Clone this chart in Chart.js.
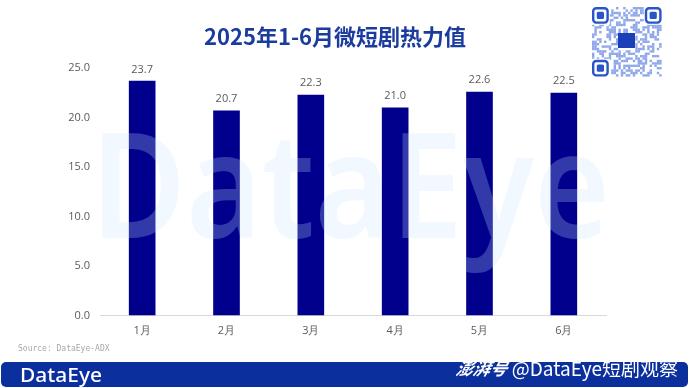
<!DOCTYPE html>
<html>
<head>
<meta charset="utf-8">
<script src="https://cdn.jsdelivr.net/npm/chart.js@4.4.1/dist/chart.umd.min.js"></script>
<style>
  html, body { margin: 0; padding: 0; background: #ffffff; }
  #grafico { display: block; }
</style>
</head>
<body>
<canvas id="grafico" width="690" height="388"></canvas>
<script>
// Datos del grafico
const meses = ["1月", "2月", "3月", "4月", "5月", "6月"];
const valores = [23.7, 20.7, 22.3, 21.0, 22.6, 22.5];
const ticksY = [0, 5, 10, 15, 20, 25];

const titulo = "2025年1-6月微短剧热力值";
const fuente = "Source: DataEye-ADX";
const marca = "DataEye";
const firma = "@DataEye短剧观察";

const azulBarra = "#00008c";
const grisTexto = "#5a5a5a";

// Dibuja un texto ajustado a una caja (ancho y alto de mayusculas)
function textoAjustado(ctx, texto, x, yBase, ancho, alto) {
  const m = ctx.measureText(texto);
  const sx = ancho / m.width;
  const sy = alto / m.actualBoundingBoxAscent;
  ctx.save();
  ctx.translate(x, yBase);
  ctx.scale(sx, sy);
  ctx.fillText(texto, 0, 0);
  ctx.restore();
}

// Marca de agua, etiquetas y decoraciones
const decoracion = {
  id: "decoracion",
  afterDatasetsDraw(chart) {
    const ctx = chart.ctx;

    // marca de agua grande sobre las barras
    ctx.save();
    ctx.globalAlpha = 0.25;
    ctx.fillStyle = "rgb(200,226,255)";
    ctx.font = "600 150px 'Noto Sans'";
    ctx.textAlign = "left";
    ctx.textBaseline = "alphabetic";
    textoAjustado(ctx, marca, 91, 238, 519, 105);
    ctx.restore();

    // valores encima de cada barra
    const meta = chart.getDatasetMeta(0);
    ctx.save();
    ctx.fillStyle = grisTexto;
    ctx.font = "11px 'Open Sans'";
    ctx.textAlign = "center";
    ctx.textBaseline = "bottom";
    meta.data.forEach((barra, i) => {
      ctx.fillText(valores[i].toFixed(1), barra.x, barra.y - 6);
    });
    ctx.restore();
  },
  afterDraw(chart) {
    const ctx = chart.ctx;

    // titulo
    ctx.save();
    ctx.fillStyle = "#1b3c9c";
    ctx.font = "bold 22px 'Noto Sans CJK SC'";
    ctx.textAlign = "center";
    ctx.textBaseline = "middle";
    ctx.fillText(titulo, 335, 37);
    ctx.restore();

    // fuente
    ctx.save();
    ctx.fillStyle = "#a8a8a8";
    ctx.font = "8px 'DejaVu Sans Mono'";
    ctx.textBaseline = "middle";
    ctx.fillText(fuente, 18, 349);
    ctx.restore();

    // franja inferior
    ctx.save();
    ctx.fillStyle = "#0c2f9e";
    ctx.beginPath();
    ctx.roundRect(1, 362, 687, 25, 5);
    ctx.fill();
    ctx.fillStyle = "#ffffff";
    ctx.font = "500 22px 'Noto Sans'";
    ctx.textBaseline = "alphabetic";
    textoAjustado(ctx, marca, 20, 382, 82, 15);
    ctx.font = "19px 'Noto Sans CJK SC'";
    ctx.textAlign = "right";
    ctx.textBaseline = "middle";
    ctx.fillText(firma, 678, 369);
    ctx.font = "italic bold 17px 'Noto Sans CJK SC'";
    ctx.save();
    ctx.translate(482, 369);
    ctx.transform(1, 0, -0.25, 1, 0, 0);
    ctx.textAlign = "center";
    ctx.fillText("澎湃号", 0, 0);
    ctx.restore();
    ctx.restore();

    // codigo QR decorativo (patron fijo)
    ctx.save();
    const qx = 592, qy = 7, n = 29, t = 2.4;
    ctx.fillStyle = "rgba(70,110,220,0.6)";
    for (let i = 0; i < n; i++) {
      for (let j = 0; j < n; j++) {
        let h = Math.imul(i + 1, 73856093) ^ Math.imul(j + 1, 19349663);
        h = Math.imul(h ^ (h >>> 13), 1274126177);
        h = (h ^ (h >>> 16)) >>> 0;
        if (h % 100 < 48) ctx.fillRect(qx + j * t, qy + i * t, t, t);
      }
    }
    ctx.fillStyle = "#ffffff";
    [[0, 0], [n - 7, 0], [0, n - 7]].forEach(([a, b]) => {
      ctx.fillRect(qx + a * t - 1, qy + b * t - 1, 7 * t + 2, 7 * t + 2);
    });
    ctx.fillRect(qx + 11 * t, qy + 11 * t, 7 * t, 7 * t);
    [[0, 0], [n - 7, 0], [0, n - 7]].forEach(([a, b]) => {
      ctx.strokeStyle = "#2a55c8";
      ctx.lineWidth = t;
      ctx.beginPath();
      ctx.roundRect(qx + a * t + t / 2, qy + b * t + t / 2, 6 * t, 6 * t, 3);
      ctx.stroke();
      ctx.fillStyle = "#2a55c8";
      ctx.beginPath();
      ctx.roundRect(qx + (a + 2) * t, qy + (b + 2) * t, 3 * t, 3 * t, 1.5);
      ctx.fill();
    });
    ctx.fillStyle = "#1a3fb8";
    ctx.fillRect(618, 33, 17, 15);
    ctx.restore();
  }
};

const ctx = document.getElementById("grafico").getContext("2d");

new Chart(ctx, {
  type: "bar",
  data: {
    labels: meses,
    datasets: [
      {
        data: valores,
        backgroundColor: azulBarra,
        borderWidth: 0,
        categoryPercentage: 1,
        barPercentage: 0.316,
      },
    ],
  },
  options: {
    responsive: false,
    animation: false,
    layout: {
      padding: { left: 0, right: 84, top: 68, bottom: 0 },
    },
    plugins: {
      legend: { display: false },
      tooltip: { enabled: false },
    },
    scales: {
      x: {
        grid: { display: false, drawTicks: false },
        border: { display: true, color: "#d9d9d9", width: 1 },
        ticks: {
          color: grisTexto,
          font: { family: "'Open Sans'", size: 11 },
          padding: 9,
        },
        afterFit(scale) {
          scale.height = 72.5;
        },
      },
      y: {
        min: 0,
        max: 25,
        grid: { display: false, drawTicks: false },
        border: { display: false },
        afterBuildTicks(scale) {
          scale.ticks = ticksY.map((v) => ({ value: v }));
        },
        ticks: {
          color: grisTexto,
          font: { family: "'Open Sans'", size: 11 },
          padding: 10,
          callback: (v) => Number(v).toFixed(1),
        },
        afterFit(scale) {
          scale.width = 100;
        },
      },
    },
  },
  plugins: [decoracion],
});
</script>
</body>
</html>
